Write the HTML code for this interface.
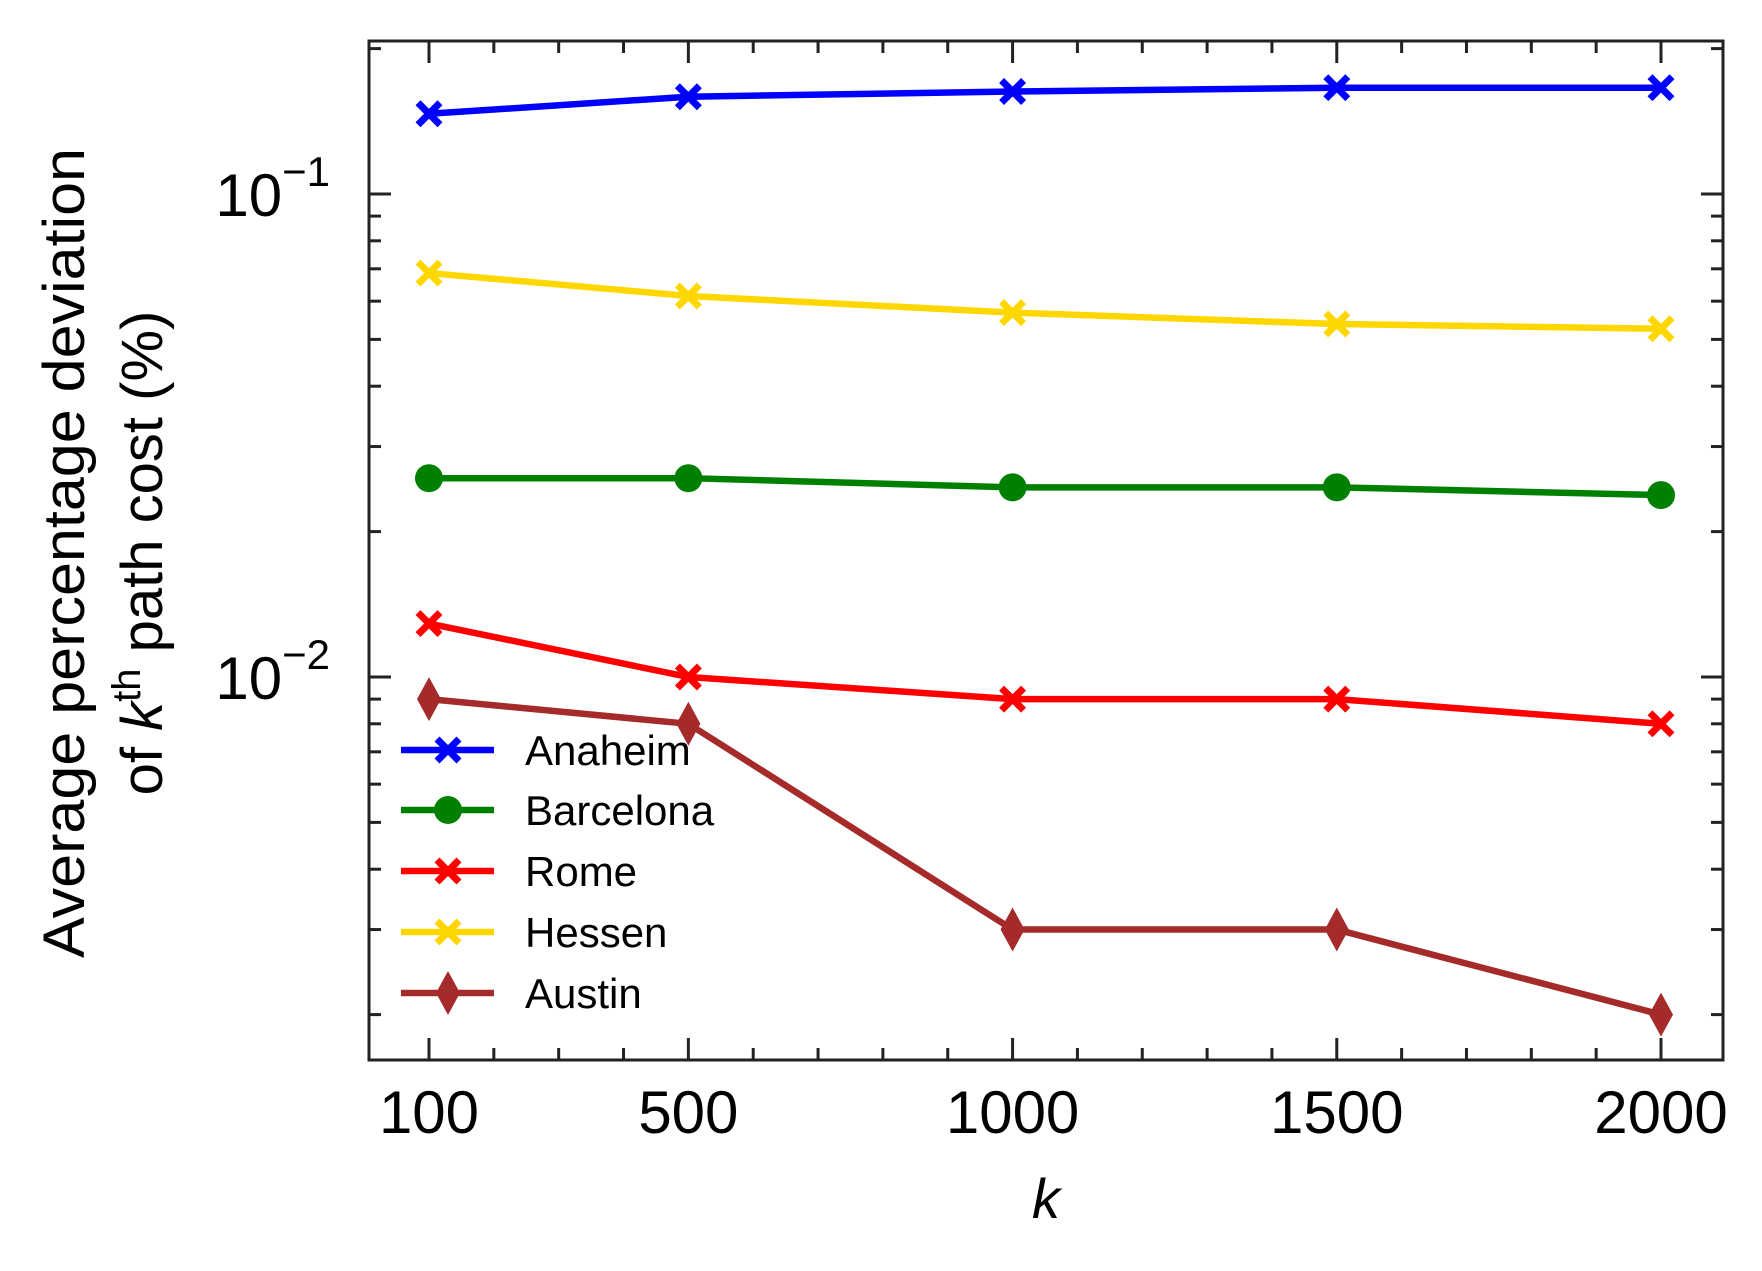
<!DOCTYPE html>
<html><head><meta charset="utf-8"><style>
html,body{margin:0;padding:0;background:#fff;}
svg{display:block;font-family:"Liberation Sans",sans-serif;}
</style></head><body>
<svg id="chart" width="1762" height="1271" viewBox="0 0 1762 1271">
<rect x="0" y="0" width="1762" height="1271" fill="#fff"/>
<g id="grid"></g>
<g id="series"></g>
<g id="legend"></g>
<rect id="frame" x="369" y="41" width="1354" height="1019" fill="none" stroke="#222" stroke-width="3"/>
<text x="1046" y="1218" font-size="56" font-style="italic" text-anchor="middle">k</text>
<g transform="translate(84,553) rotate(-90)">
<text x="0" y="0" font-size="58" text-anchor="middle" textLength="810" lengthAdjust="spacingAndGlyphs">Average percentage deviation</text>
<text x="0" y="78" font-size="58" text-anchor="middle">of <tspan font-style="italic">k</tspan><tspan font-size="40" dy="-22">th</tspan><tspan dy="22"> path cost (%)</tspan></text>
</g>
</svg>
<script>
const categories = [100, 500, 1000, 1500, 2000];
const seriesNames = ["Anaheim", "Barcelona", "Rome", "Hessen", "Austin"];
const anaheim = [0.1466, 0.159, 0.163, 0.166, 0.166];
const barcelona = [0.0258, 0.0258, 0.0247, 0.0247, 0.0238];
const rome = [0.0129, 0.0100, 0.0090, 0.0090, 0.0080];
const hessen = [0.0686, 0.0615, 0.0568, 0.0538, 0.0526];
const austin = [0.0090, 0.0080, 0.0030, 0.0030, 0.0020];
const xTicks = [100, 500, 1000, 1500, 2000];
const yMajor = [-1, -2];

const NS = "http://www.w3.org/2000/svg";
const L = 369, R = 1723, T = 41, B = 1060;
const xs = v => 429 + (v - 100) * (1661 - 429) / 1900;
const ys = v => 194 + (-1 - Math.log10(v)) * 483;
function mk(tag, attrs, parent) { const e = document.createElementNS(NS, tag); for (const k in attrs) e.setAttribute(k, attrs[k]); parent.appendChild(e); return e; }

const grid = document.getElementById("grid");
for (let v = 100; v <= 2100; v += 100) {
  const x = xs(v); if (x < L || x > R) continue;
  const major = xTicks.includes(v); const len = major ? 22 : 12;
  const t1 = mk("line", {x1:x, x2:x, y1:B, y2:B-len, stroke:"#222", "stroke-width":3}, grid);
  
  
  const t2 = mk("line", {x1:x, x2:x, y1:T, y2:T+len, stroke:"#222", "stroke-width":3}, grid);
  
  
}
xTicks.forEach(v => {
  const t = mk("text", {x:xs(v), y:1133, "font-size":60, "text-anchor":"middle"}, grid);
  t.textContent = v;
  
  
});
for (let d = -3; d <= -1; d++) {
  for (let m = 1; m <= 9; m++) {
    const v = m * Math.pow(10, d); const y = ys(v);
    if (y < T || y > B) continue;
    const len = m === 1 ? 22 : 12;
    const a = mk("line", {x1:L, x2:L+len, y1:y, y2:y, stroke:"#222", "stroke-width":3}, grid);
    
    
    const b = mk("line", {x1:R, x2:R-len, y1:y, y2:y, stroke:"#222", "stroke-width":3}, grid);
    
    
  }
}
yMajor.forEach(p => {
  const y = ys(Math.pow(10, p));
  const t = mk("text", {x:330, y:y+22, "font-size":60, "text-anchor":"end"}, grid);
  t.innerHTML = '10<tspan font-size="42" dy="-30">\u2212' + (-p) + '</tspan>';
  
  
});

function marker(type, x, y, color, parent) {
  let e;
  if (type === "x") {
    e = mk("path", {d:`M${x-11},${y-11}L${x+11},${y+11}M${x-11},${y+11}L${x+11},${y-11}`, stroke:color, "stroke-width":7, fill:"none"}, parent);
  } else if (type === "o") {
    e = mk("circle", {cx:x, cy:y, r:14, fill:color}, parent);
  } else {
    e = mk("path", {d:`M${x},${y-22}L${x+12},${y}L${x},${y+22}L${x-12},${y}Z`, fill:color}, parent);
  }
  return e;
}
const defs = [
  {name:"Anaheim", data:anaheim, color:"#0000ff", m:"x"},
  {name:"Barcelona", data:barcelona, color:"#008000", m:"o"},
  {name:"Rome", data:rome, color:"#ff0000", m:"x"},
  {name:"Hessen", data:hessen, color:"#ffd700", m:"x"},
  {name:"Austin", data:austin, color:"#a52a2a", m:"d"}
];
const sg = document.getElementById("series");
defs.forEach(s => {
  const g = mk("g", {}, sg);
  
  
  const pts = categories.map((c, i) => xs(c) + "," + ys(s.data[i])).join(" ");
  const pl = mk("polyline", {points:pts, fill:"none", stroke:s.color, "stroke-width":6.5, "stroke-linejoin":"round"}, g);
  
  
  categories.forEach((c, i) => {
    const e = marker(s.m, xs(c), ys(s.data[i]), s.color, g);
    
    
  });
});
const lg = document.getElementById("legend");


const legendRows = [750, 810, 871, 932, 993];
defs.forEach((s, i) => {
  const y = legendRows[i];
  const g = mk("g", {}, lg);
  
  
  mk("line", {x1:401, x2:494, y1:y, y2:y, stroke:s.color, "stroke-width":6.5}, g);
  marker(s.m, 448, y, s.color, g);
  const t = mk("text", {x:525, y:y+15, "font-size":42}, g);
  t.textContent = s.name;
});
</script>
</body></html>
